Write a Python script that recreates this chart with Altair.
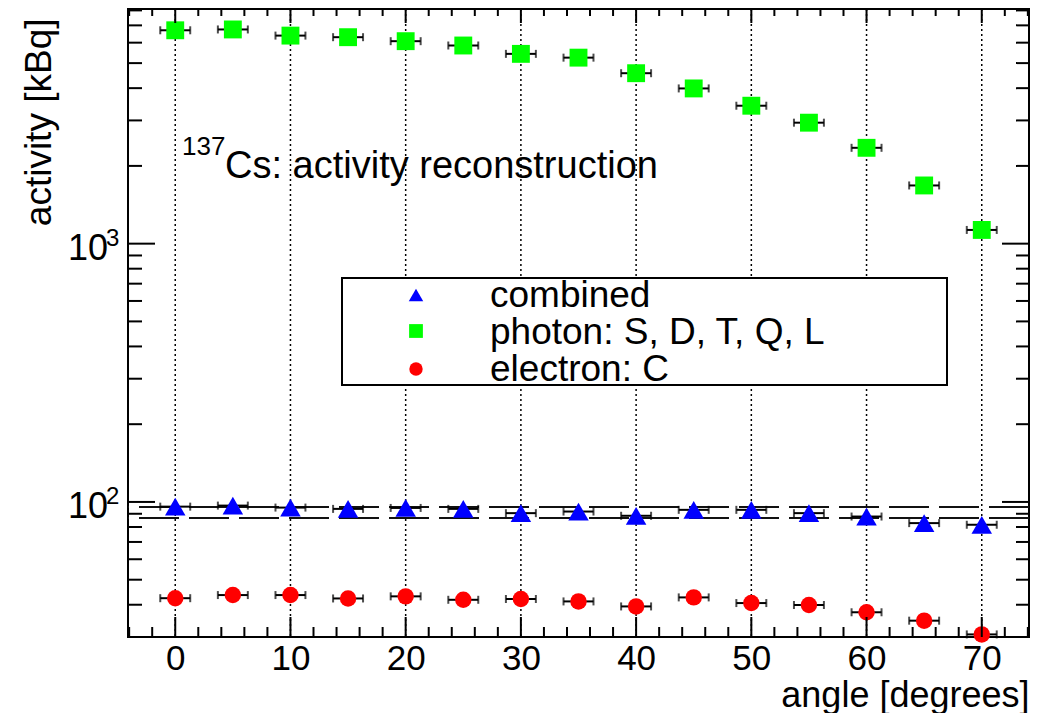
import altair as alt
import pandas as pd

# ---------------- data ----------------
angles = [0, 5, 10, 15, 20, 25, 30, 35, 40, 45, 50, 55, 60, 65, 70]
photon = [6700, 6750, 6390, 6300, 6080, 5850, 5430, 5250, 4570, 3990, 3420, 2940, 2350, 1680, 1130]
combined = [95.9, 96.8, 95.1, 94.0, 94.8, 94.0, 90.5, 91.8, 88.4, 93.2, 93.2, 90.5, 87.8, 82.8, 81.6]
electron = [42.4, 43.6, 43.6, 42.3, 43.1, 41.8, 42.1, 41.2, 39.4, 42.7, 40.6, 39.9, 37.4, 34.7, 30.7]
angle_err = [1.3, 1.3, 1.3, 1.3, 1.3, 1.3, 1.3, 1.3, 1.3, 1.3, 1.3, 1.3, 1.3, 1.3, 1.3]
band_lines = [95.6, 86.6]

series_names = ["combined", "photon: S, D, T, Q, L", "electron: C"]
series_colors = ["#0000ff", "#00ff00", "#ff0000"]
series_shapes = ["triangle-up", "square", "circle"]

annotation = ["137", "Cs: activity reconstruction"]

x_major = [0, 10, 20, 30, 40, 50, 60, 70]
x_minor = [-4, -2, 2, 4, 6, 8, 12, 14, 16, 18, 22, 24, 26, 28, 32, 34, 36, 38,
           42, 44, 46, 48, 52, 54, 56, 58, 62, 64, 66, 68, 72, 74]
y_major = [100, 1000]
y_major_base = ["10", "10"]
y_major_exp = ["2", "3"]
y_minor = [40, 50, 60, 70, 80, 90, 200, 300, 400, 500, 600, 700, 800, 900,
           2000, 3000, 4000, 5000, 6000, 7000, 8000]

# ---------------- layout ----------------
W, H = 901, 628
FONT = "Liberation Sans"

xs = alt.Scale(domain=[-4.1, 74.1], nice=False, zero=False)
ys = alt.Scale(type="log", domain=[30, 8100], nice=False)

x_axis = alt.Axis(
    title="angle [degrees]", values=x_major, format="d", grid=False, domain=False,
    ticks=False, tickSize=0, labelFontSize=35, labelPadding=4, labelFlush=False,
    labelColor="black", labelFont=FONT, titleFont=FONT, titleFontSize=36,
    titleFontWeight="normal", titleColor="black", titleX=W, titleY=69,
    titleAlign="right", titleBaseline="alphabetic", titleAngle=0,
)
y_axis = alt.Axis(
    title="activity [kBq]", labels=False, grid=False, domain=False, ticks=False,
    tickSize=0, titleFont=FONT, titleFontSize=37, titleFontWeight="normal",
    titleColor="black", titleX=-78, titleY=9, titleAngle=270, titleAlign="right",
    titleBaseline="alphabetic",
)


def X(field):
    return alt.X(f"{field}:Q", scale=xs, axis=x_axis)


def Y(field):
    return alt.Y(f"{field}:Q", scale=ys, axis=y_axis)


series_values = [combined, photon, electron]
series_sizes = [420, 320, 270]

rows = []
for name, vals in zip(series_names, series_values):
    for a, v, e in zip(angles, vals, angle_err):
        rows.append({"series": name, "angle": a, "value": v, "lo": a - e, "hi": a + e})
df = pd.DataFrame(rows)

layers = []

# dotted vertical grid at major x ticks
layers.append(
    alt.Chart(pd.DataFrame({"angle": x_major}))
    .mark_rule(color="black", strokeWidth=1.5, strokeDash=[2, 3])
    .encode(x=X("angle"))
)

# dashed horizontal band lines
layers.append(
    alt.Chart(pd.DataFrame({"value": band_lines}))
    .mark_rule(color="#111111", strokeWidth=2, strokeDash=[40, 10])
    .encode(y=Y("value"))
)

# horizontal error bars
layers.append(
    alt.Chart(df).mark_rule(color="black", strokeWidth=2)
    .encode(x=X("lo"), x2="hi", y=Y("value"))
)
layers.append(
    alt.Chart(df).transform_fold(["lo", "hi"], as_=["side", "xpos"])
    .mark_tick(orient="vertical", size=8, thickness=2, color="black")
    .encode(x=X("xpos"), y=Y("value"))
)

# markers
for name, vals, color, shape, size in zip(series_names, series_values, series_colors,
                                          series_shapes, series_sizes):
    sdf = pd.DataFrame({"angle": angles, "value": vals})
    layers.append(
        alt.Chart(sdf)
        .mark_point(filled=True, shape=shape, size=size, color=color, opacity=1, strokeWidth=0)
        .encode(x=X("angle"), y=Y("value"))
    )

# legend box
layers.append(
    alt.Chart(pd.DataFrame({"k": [0]}))
    .mark_rect(fill="white", stroke="black", strokeWidth=2)
    .encode(x=alt.value(214), x2=alt.value(819), y=alt.value(269), y2=alt.value(376))
)
legend_sym_y = [286, 322, 360]
legend_txt_y = [298, 335, 372]
legend_sizes = [210, 190, 180]
for name, color, shape, size, sy, ty in zip(series_names, series_colors, series_shapes,
                                           legend_sizes, legend_sym_y, legend_txt_y):
    ldf = pd.DataFrame({"label": [name]})
    layers.append(
        alt.Chart(ldf)
        .mark_point(filled=True, shape=shape, size=size, color=color, opacity=1, strokeWidth=0)
        .encode(x=alt.value(288), y=alt.value(sy))
    )
    layers.append(
        alt.Chart(ldf)
        .mark_text(align="left", baseline="alphabetic", fontSize=37, font=FONT, color="black")
        .encode(x=alt.value(362), y=alt.value(ty), text="label:N")
    )

# annotation  137Cs: activity reconstruction
layers.append(
    alt.Chart(pd.DataFrame({"t": [annotation[0]]}))
    .mark_text(align="left", baseline="alphabetic", fontSize=26, font=FONT, color="black")
    .encode(x=alt.value(54), y=alt.value(146), text="t:N")
)
layers.append(
    alt.Chart(pd.DataFrame({"t": [annotation[1]]}))
    .mark_text(align="left", baseline="alphabetic", fontSize=38, font=FONT, color="black")
    .encode(x=alt.value(97), y=alt.value(169), text="t:N")
)

# y-axis labels 10^2, 10^3
ylab = pd.DataFrame({"value": y_major, "base": y_major_base, "exp": y_major_exp})
layers.append(
    alt.Chart(ylab)
    .mark_text(align="right", baseline="alphabetic", fontSize=36, font=FONT, color="black", dy=16)
    .encode(x=alt.value(-20), y=Y("value"), text="base:N")
)
layers.append(
    alt.Chart(ylab)
    .mark_text(align="left", baseline="alphabetic", fontSize=24, font=FONT, color="black", dy=2)
    .encode(x=alt.value(-22), y=Y("value"), text="exp:N")
)

# inward ticks (ROOT style)
xmaj = pd.DataFrame({"angle": x_major})
xmin = pd.DataFrame({"angle": x_minor})
ymaj = pd.DataFrame({"value": y_major})
ymin = pd.DataFrame({"value": y_minor})
tick_style = dict(color="black", strokeWidth=2)
layers += [
    alt.Chart(xmaj).mark_rule(**tick_style).encode(x=X("angle"), y=alt.value(H), y2=alt.value(H - 20)),
    alt.Chart(xmin).mark_rule(**tick_style).encode(x=X("angle"), y=alt.value(H), y2=alt.value(H - 10)),
    alt.Chart(xmaj).mark_rule(**tick_style).encode(x=X("angle"), y=alt.value(0), y2=alt.value(14)),
    alt.Chart(xmin).mark_rule(**tick_style).encode(x=X("angle"), y=alt.value(0), y2=alt.value(7)),
    alt.Chart(ymaj).mark_rule(**tick_style).encode(y=Y("value"), x=alt.value(0), x2=alt.value(27)),
    alt.Chart(ymin).mark_rule(**tick_style).encode(y=Y("value"), x=alt.value(0), x2=alt.value(14)),
    alt.Chart(ymaj).mark_rule(**tick_style).encode(y=Y("value"), x=alt.value(W), x2=alt.value(W - 27)),
    alt.Chart(ymin).mark_rule(**tick_style).encode(y=Y("value"), x=alt.value(W), x2=alt.value(W - 13)),
]

chart = (
    alt.layer(*layers)
    .properties(
        width=W,
        height=H,
        autosize=alt.AutoSizeParams(type="none"),
        padding={"left": 120, "top": 1, "right": 1, "bottom": 76},
        background="white",
    )
    .configure(font=FONT)
    .configure_view(stroke="black", strokeWidth=2)
)

chart.save("out.html", embed_options={"renderer": "svg", "actions": False})
